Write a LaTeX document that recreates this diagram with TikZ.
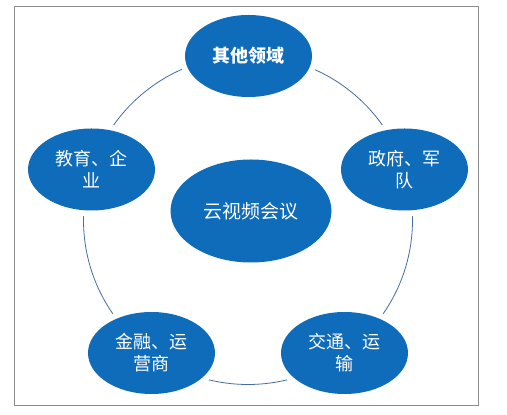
\documentclass[tikz,border=0pt]{standalone}
\usepackage{fontspec}
\setmainfont{Noto Sans CJK SC}
\usetikzlibrary{shapes.geometric}

\definecolor{areablue}{RGB}{14,108,186}
\definecolor{ringblue}{RGB}{70,110,160}
\definecolor{framegray}{RGB}{140,140,140}

\begin{document}
\begin{tikzpicture}[
        x=1pt, y=1pt,
        area/.style={ellipse, fill=areablue, inner sep=0pt, minimum width=127pt, minimum height=82pt,
            align=center, text=white, font=\fontsize{18}{22}\selectfont,
            preaction={draw=white, line width=12pt}},
        hubnode/.style={area, minimum width=161pt, minimum height=103pt, font=\fontsize{19}{23}\selectfont},
        ring/.style={draw=ringblue, line width=0.8pt}
    ]
        \useasboundingbox[fill=white] (0,0) rectangle (507,415);
        \draw[framegray, line width=0.9pt] (14,10) rectangle (478,409);

        % Ring behind the areas
        \coordinate (hub) at (248,195);
        \draw[ring] (hub) circle (164.5);

        % Outer areas
        \node[area, font=\fontsize{18}{22}\selectfont\bfseries] (other) at (248.5,359) {其他领域};
        \node[area] (gov) at (404.5,245.5) {政府、军\\队};
        \node[area] (traffic) at (344.5,62) {交通、运\\输};
        \node[area] (finance) at (151.5,62) {金融、运\\营商};
        \node[area] (edu) at (91.5,245.5) {教育、企\\业};

        % Centre
        \node[hubnode] (cloud) at (251,204) {云视频会议};

    \end{tikzpicture}
\end{document}
